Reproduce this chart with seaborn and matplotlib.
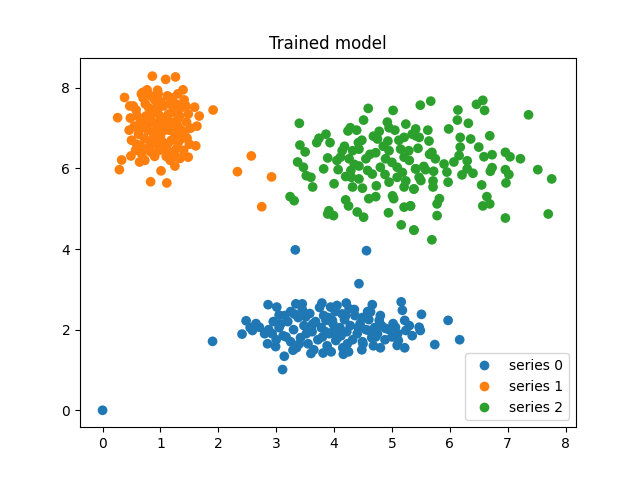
import numpy as np
import pandas as pd
import matplotlib
matplotlib.use("Agg")
import matplotlib.pyplot as plt
import seaborn as sns

# series 0 (blue, bottom cluster)
s0_x = [0.0, 3.33, 1.90, 3.11, 3.14, 3.29, 2.86, 3.01, 3.34, 3.45, 3.79, 3.94, 2.48, 2.41, 2.59, 2.71,
        2.87, 3.05, 3.31, 3.08, 2.85, 2.99, 3.60, 3.81, 3.40, 3.63, 3.86, 3.51, 3.80, 3.17, 2.93,
        4.56, 4.43, 4.21, 4.66, 5.16, 5.18, 5.51, 4.63, 4.49, 4.78, 5.22, 5.97, 5.47, 5.49, 5.24,
        5.06, 4.89, 6.17, 5.74, 5.22, 5.09, 5.11, 4.80, 4.16, 4.49, 4.23, 4.03, 3.97, 4.14, 4.26,
        4.72, 4.60, 5.00,
        3.05, 3.12, 3.20, 3.25, 3.30, 3.38, 3.42, 3.48, 3.55, 3.58, 3.62, 3.68, 3.72, 3.78, 3.82,
        3.88, 3.92, 3.98, 4.02, 4.06, 4.10, 4.15, 4.18, 4.22, 4.28, 4.32, 4.36, 4.40, 4.45, 4.50,
        4.55, 4.60, 4.65, 4.70, 4.75, 4.82, 4.88, 4.95, 5.02, 5.10, 3.15, 3.35, 3.45, 3.65, 3.75,
        3.95, 4.05, 4.25, 4.35, 4.48, 4.58, 3.85, 4.12, 3.52, 4.42, 3.00, 2.95, 2.80, 2.65, 2.55,
        4.00, 3.60, 4.20, 4.80, 5.30, 5.35, 3.25, 3.90, 4.68]
s0_y = [0.0, 3.98, 1.71, 1.01, 1.34, 1.49, 2.62, 2.56, 2.64, 2.64, 2.66, 2.56, 2.22, 1.89, 1.98, 2.06,
        2.00, 2.36, 2.39, 2.14, 1.65, 1.58, 1.41, 1.42, 1.65, 2.14, 2.23, 2.32, 1.82, 1.82, 1.90,
        3.96, 3.14, 2.66, 2.62, 2.69, 2.48, 2.38, 2.44, 2.30, 2.23, 2.23, 2.23, 2.06, 1.98, 1.98,
        2.06, 2.03, 1.75, 1.63, 1.55, 1.61, 1.73, 1.55, 1.39, 1.70, 1.65, 1.73, 2.23, 2.39, 2.52,
        1.82, 1.98, 1.82,
        2.05, 1.85, 2.20, 1.70, 2.00, 2.30, 1.80, 2.10, 1.65, 2.40, 1.95, 2.20, 1.75, 2.05, 2.35,
        1.60, 1.90, 2.15, 2.45, 1.80, 2.05, 1.55, 2.25, 1.95, 2.10, 1.75, 2.35, 1.90, 2.15, 1.65,
        2.00, 2.25, 1.80, 2.05, 1.90, 2.10, 1.75, 2.00, 2.15, 1.90, 2.35, 1.55, 2.50, 1.50, 2.55,
        1.45, 2.60, 1.45, 2.50, 1.50, 2.45, 1.95, 1.85, 1.90, 2.05, 1.75, 2.20, 1.90, 2.15, 2.05,
        2.00, 2.05, 2.35, 2.35, 2.10, 1.85, 2.45, 2.30, 1.60]

# series 1 (orange, top-left cluster)
s1_x = [0.86, 1.09, 1.26, 0.38, 0.26, 1.91, 1.67, 1.63, 1.61, 0.33, 0.29, 0.83, 1.11, 1.01, 1.25,
        1.48, 0.64, 0.49, 0.70, 0.95, 1.30, 1.59, 0.47, 2.57, 2.33, 2.92, 2.75,
        0.55, 0.62, 0.70, 0.78, 0.85, 0.92, 1.00, 1.08, 1.15, 1.22, 1.30, 1.38, 1.45, 0.50, 0.58,
        0.66, 0.74, 0.82, 0.90, 0.98, 1.05, 1.12, 1.20, 1.28, 1.35, 1.42, 1.50, 0.46, 0.60, 0.68,
        0.76, 0.84, 0.95, 1.02, 1.10, 1.18, 1.25, 1.33, 1.40, 1.48, 0.53, 0.64, 0.72, 0.80, 0.88,
        0.96, 1.04, 1.12, 1.20, 1.27, 1.36, 1.44, 0.57, 0.70, 0.86, 0.99, 1.07, 1.16, 1.24, 1.31,
        0.63, 0.79, 0.93, 1.01, 1.14, 1.29, 1.41, 0.48, 0.75, 0.90, 1.06, 1.19, 1.34, 1.46, 0.67,
        0.83, 1.09, 1.23, 0.97, 1.03, 0.87, 1.13, 0.73, 1.17, 0.94, 1.26, 1.52, 0.59, 1.39, 0.77]
s1_y = [8.29, 8.21, 8.27, 7.76, 7.26, 7.45, 7.30, 7.05, 6.56, 6.21, 5.97, 5.67, 5.64, 5.94, 6.06,
        6.28, 6.16, 6.31, 7.89, 7.94, 7.85, 7.52, 7.55, 6.31, 5.92, 5.79, 5.05,
        7.05, 6.85, 7.20, 6.95, 7.35, 7.10, 6.80, 7.25, 6.95, 7.40, 7.05, 6.75, 7.15, 6.70, 7.45,
        6.55, 7.60, 6.65, 7.70, 6.45, 7.55, 6.60, 7.75, 6.50, 7.50, 6.90, 6.60, 6.95, 7.30, 6.35,
        7.05, 6.40, 7.45, 7.05, 6.30, 7.15, 6.85, 7.30, 6.45, 7.35, 7.55, 7.10, 6.75, 7.50, 6.90,
        7.85, 6.65, 7.80, 6.40, 7.60, 6.95, 7.55, 6.45, 7.75, 7.15, 7.30, 6.95, 7.60, 7.00, 6.65,
        6.95, 6.50, 6.60, 7.65, 7.35, 7.20, 7.70, 7.25, 7.30, 6.30, 6.50, 6.70, 6.25, 6.75, 7.85,
        7.80, 7.00, 7.50, 6.95, 7.20, 6.75, 7.10, 6.20, 6.20, 7.55, 6.30, 7.00, 6.60, 7.95, 7.95]

# series 2 (green, top-right cluster)
s2_x = [3.40, 4.59, 5.02, 4.51, 4.92, 5.24, 4.95, 4.28, 4.39, 4.24, 3.86, 3.74, 3.70, 3.93, 3.41,
        3.50, 4.78, 4.75, 4.93, 5.21, 5.41, 4.42, 4.43, 4.14, 4.32, 4.72, 4.95, 5.15, 5.29, 4.11,
        4.26, 4.55, 4.89, 5.21, 3.89, 3.37, 3.47, 3.82, 4.07, 4.29, 4.43, 4.80, 5.09, 5.41, 4.66,
        4.30, 3.52, 3.60, 4.43, 4.00, 3.63, 4.32, 4.49, 4.73, 4.95, 5.21, 5.38, 5.24, 5.09, 3.24,
        3.31, 4.20, 4.25, 4.60, 4.72, 5.01, 5.03, 3.91, 3.89, 3.99, 4.40, 4.51, 4.94, 5.21, 5.32,
        5.16, 5.38,
        5.49, 5.67, 6.46, 6.57, 6.60, 6.14, 6.13, 6.32, 7.36, 5.98, 6.69, 5.41, 5.62, 5.47, 5.64,
        6.18, 6.36, 6.18, 6.50, 5.69, 5.75, 5.90, 6.07, 6.16, 6.30, 6.59, 6.73, 6.96, 7.04, 7.22,
        5.41, 5.58, 5.72, 5.95, 6.30, 6.40, 6.21, 6.73, 6.70, 6.96, 7.02, 7.52, 7.76, 5.47, 5.71,
        5.97, 5.71, 6.55, 6.97, 5.38, 6.64, 5.82, 5.78, 6.57, 6.69, 5.32, 5.78, 6.96, 7.70, 5.38,
        5.69,
        4.05, 4.18, 4.35, 4.48, 4.62, 4.85, 5.00, 5.12, 5.30, 5.45, 5.55, 5.65, 4.58, 4.88, 5.18,
        5.50, 4.20, 5.35, 5.05, 4.68]
s2_y = [7.12, 7.49, 7.44, 7.20, 7.15, 7.10, 7.01, 7.01, 6.95, 6.93, 6.85, 6.75, 6.64, 6.64, 6.58,
        6.41, 6.92, 6.73, 6.68, 6.77, 6.81, 6.64, 6.48, 6.44, 6.44, 6.39, 6.44, 6.48, 6.44, 6.28,
        6.24, 6.24, 6.24, 6.28, 6.26, 6.16, 6.03, 5.99, 5.97, 5.95, 6.06, 6.03, 6.03, 5.99, 5.86,
        5.78, 5.82, 5.78, 5.74, 5.62, 5.54, 5.54, 5.51, 5.57, 5.66, 5.54, 5.49, 5.69, 5.78, 5.30,
        5.20, 5.22, 5.07, 5.25, 5.30, 5.32, 5.25, 4.95, 4.87, 4.83, 4.92, 4.79, 4.90, 5.04, 5.07,
        4.60, 4.47,
        7.57, 7.67, 7.59, 7.69, 7.44, 7.45, 7.20, 7.12, 7.33, 6.98, 6.81, 6.98, 6.95, 6.77, 6.68,
        6.77, 6.73, 6.53, 6.53, 6.40, 6.24, 6.11, 6.16, 6.32, 6.19, 6.29, 6.34, 6.40, 6.29, 6.24,
        5.99, 5.97, 5.93, 5.91, 5.99, 5.88, 5.84, 6.02, 5.93, 5.97, 5.85, 5.97, 5.74, 5.78, 5.69,
        5.66, 5.54, 5.59, 5.64, 5.49, 5.30, 5.25, 5.12, 5.07, 5.12, 5.07, 4.83, 4.77, 4.87, 4.47,
        4.23,
        6.20, 6.55, 6.10, 6.70, 6.35, 6.55, 6.15, 6.70, 6.20, 6.50, 6.05, 6.35, 5.95, 5.85, 5.90,
        5.70, 5.80, 6.85, 6.95, 6.80]

df = pd.concat([
    pd.DataFrame({'x': s0_x, 'y': s0_y, 'series': 'series 0'}),
    pd.DataFrame({'x': s1_x, 'y': s1_y, 'series': 'series 1'}),
    pd.DataFrame({'x': s2_x, 'y': s2_y, 'series': 'series 2'}),
])

fig, ax = plt.subplots(figsize=(6.4, 4.8), dpi=100)
sns.scatterplot(data=df, x='x', y='y', hue='series',
                palette=['#1f77b4', '#ff7f0e', '#2ca02c'],
                s=49, linewidth=0, alpha=1, ax=ax)
ax.set_xlabel('')
ax.set_ylabel('')
ax.set_title('Trained model')
ax.set_xlim(-0.39, 8.18)
ax.set_ylim(-0.42, 8.75)
ax.legend(loc='lower right')
plt.savefig('out.png', dpi=100)
